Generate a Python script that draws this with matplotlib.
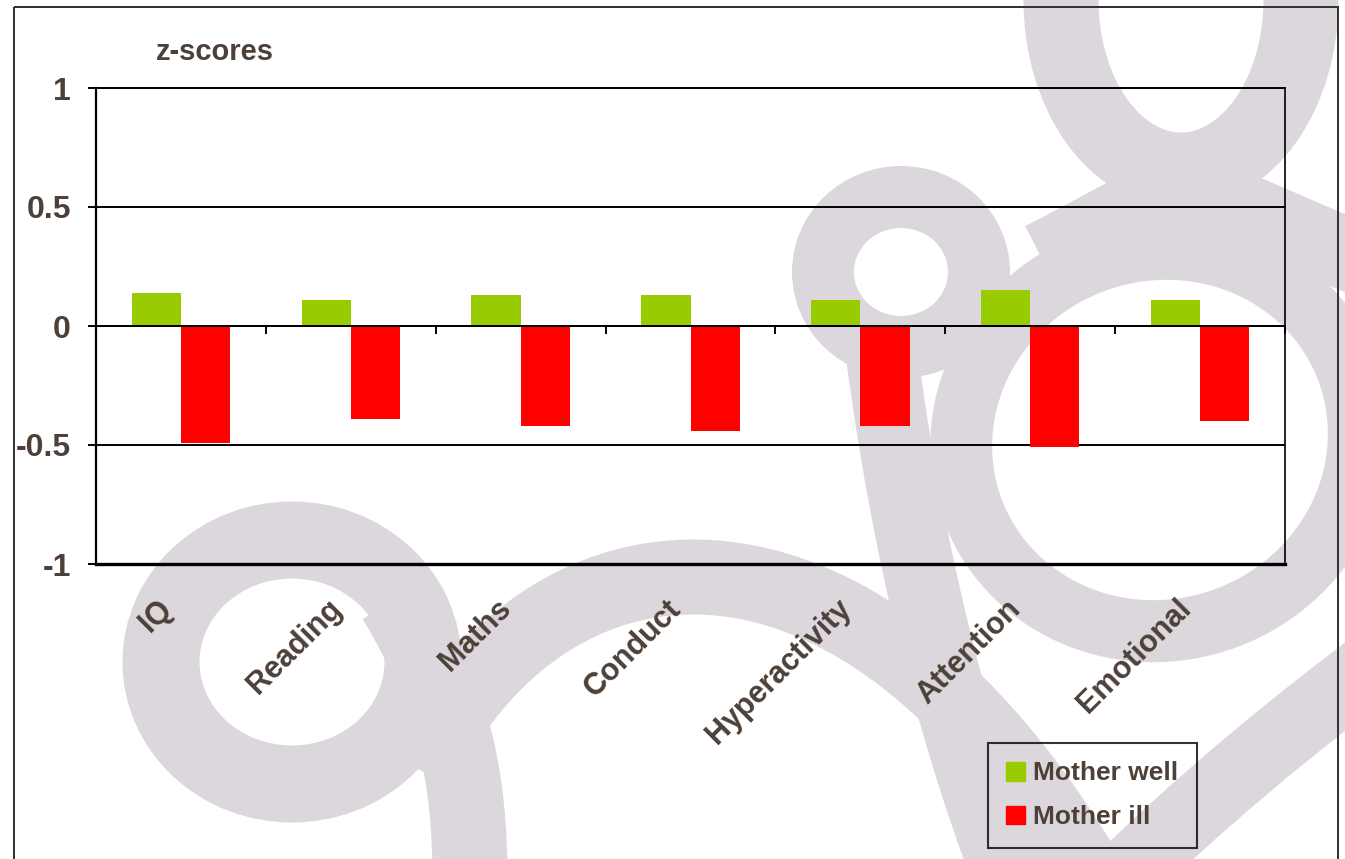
import numpy as np
import matplotlib as mpl
mpl.use('Agg')
import matplotlib.pyplot as plt
from matplotlib.patches import Ellipse, PathPatch, Rectangle, Patch
from matplotlib.path import Path
import matplotlib.transforms as mtrans

plt.rcParams['font.family'] = ['Liberation Sans', 'DejaVu Sans']
plt.rcParams['font.weight'] = 'bold'

# data
categories = ['IQ', 'Reading', 'Maths', 'Conduct', 'Hyperactivity', 'Attention', 'Emotional']
mother_well = [0.14, 0.11, 0.13, 0.13, 0.11, 0.15, 0.11]
mother_ill = [-0.49, -0.39, -0.42, -0.44, -0.42, -0.51, -0.40]
ytick_vals = [-1, -0.5, 0, 0.5, 1]
ytick_labels = ['-1', '-0.5', '0', '0.5', '1']

TEXT = '#4d4039'
GREEN = '#99cc00'
RED = '#ff0000'
SWIRL = '#dcd7dc'
PX = 0.72  # points per pixel at dpi 100

fig = plt.figure(figsize=(13.45, 8.59), dpi=100)

# decorative swirl in the background, pixel coords (y down)
bg = fig.add_axes([0, 0, 1, 1], zorder=0)
bg.set_xlim(0, 1345)
bg.set_ylim(859, 0)
bg.axis('off')

def ring(cx, cy, w, h, lw, angle=0):
  bg.add_patch(Ellipse((cx, cy), w, h, angle=angle, fill=False,
                       edgecolor=SWIRL, lw=lw * PX))

def band(pts, lw):
  codes = [Path.MOVETO] + [Path.CURVE4] * (len(pts) - 1)
  bg.add_patch(PathPatch(Path(pts, codes), fill=False, edgecolor=SWIRL,
                         lw=lw * PX, capstyle='butt'))

ring(1181, 0, 240, 340, 75)
band([(1170, 180), (1250, 210), (1320, 245), (1400, 275)], 72)
band([(1185, 180), (1130, 205), (1090, 230), (1040, 255)], 65)
ring(1160, 440, 400, 380, 62, angle=-20)
ring(901, 272, 156, 150, 62)
band([(880, 340), (900, 500), (940, 700), (1010, 880)], 72)
ring(292, 662, 262, 244, 77)
band([(395, 600), (455, 700), (470, 780), (470, 880)], 75)
band([(420, 770), (540, 520), (850, 470), (1090, 880)], 75)
band([(1100, 900), (1200, 800), (1300, 720), (1380, 660)], 70)
bg.add_patch(Rectangle((14, 7), 1324, 900, fill=False, edgecolor='#333333', lw=2 * PX))

# main chart
ax = fig.add_axes([96 / 1345, 1 - 564 / 859, (1285 - 96) / 1345, (564 - 88) / 859], zorder=1)
ax.set_facecolor('none')
ax.set_axisbelow(True)

x = np.arange(len(categories))
w = 0.29
ax.bar(x - w / 2, mother_well, w, color=GREEN, label='Mother well', zorder=2)
ax.bar(x + w / 2, mother_ill, w, color=RED, label='Mother ill', zorder=2)

ax.set_xlim(-0.5, len(categories) - 0.5)
ax.set_ylim(-1, 1)

ax.set_yticks(ytick_vals)
ax.set_yticklabels(ytick_labels, fontsize=23, fontweight='bold', color=TEXT)
ax.tick_params(axis='y', direction='out', length=6, width=1.4, pad=12, color='black')
ax.yaxis.grid(True, color='black', lw=1.4)

ax.set_xticks(np.arange(-0.5, len(categories)))
ax.set_xticklabels([])
ax.tick_params(axis='x', direction='out', length=6, width=1.4, color='black')

ax.spines['bottom'].set_position(('data', 0))
ax.spines['bottom'].set_linewidth(1.4)
ax.spines['left'].set_linewidth(1.6)
ax.spines['right'].set_linewidth(1.2)
ax.spines['top'].set_linewidth(1.4)
ax.axhline(-1, color='black', lw=2.4, clip_on=False, zorder=3)

trans = mtrans.blended_transform_factory(ax.transData, ax.transAxes)
for i, name in enumerate(categories):
  ax.text(i - 0.08, -0.085, name, transform=trans, rotation=45, rotation_mode='anchor',
          ha='right', va='center', fontsize=22, fontweight='bold', color=TEXT)

fig.text(156 / 1345, 1 - 52 / 859, 'z-scores', fontsize=21, fontweight='bold',
         color=TEXT, ha='left', va='center')

handles = [Patch(color=GREEN), Patch(color=RED)]
leg = fig.legend(handles, ['Mother well', 'Mother ill'], loc='upper left',
                 bbox_to_anchor=(988 / 1345, 1 - 743 / 859), borderaxespad=0,
                 fontsize=19, frameon=True, fancybox=False, edgecolor='black',
                 facecolor='none', handlelength=0.72, handleheight=0.72,
                 handletextpad=0.3, labelspacing=0.75, borderpad=0.7)
leg.get_frame().set_linewidth(1.5)
for t in leg.get_texts():
  t.set_color(TEXT)
  t.set_fontweight('bold')

fig.savefig('out.png', dpi=100)
